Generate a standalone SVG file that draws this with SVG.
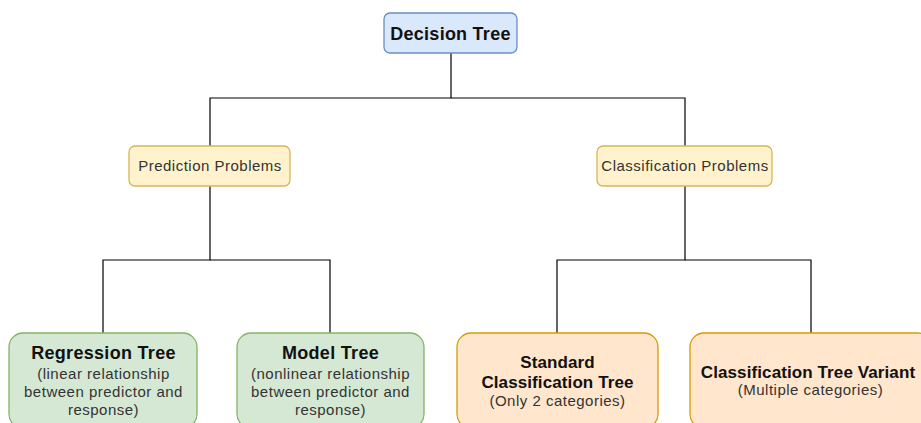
<svg xmlns="http://www.w3.org/2000/svg" width="921" height="423" viewBox="0 0 921 423">
  <style>
    .blue { fill: #dae8fc; stroke: #6c8ebf; stroke-width: 1.3; }
    .yellow { fill: #fff2cc; stroke: #d6b656; stroke-width: 1.3; }
    .green { fill: #d5e8d4; stroke: #82b366; stroke-width: 1.3; }
    .orange { fill: #ffe6cc; stroke: #d79b00; stroke-width: 1.3; }
    text { font-family: "Liberation Sans", Arial, sans-serif; text-anchor: middle; }
    .head { font-size: 18px; font-weight: bold; fill: #111; letter-spacing: 0.25px; }
    .gtitle { font-size: 18px; font-weight: bold; fill: #111; letter-spacing: 0.3px; }
    .otitle { font-size: 17px; font-weight: bold; fill: #111; letter-spacing: 0.1px; }
    .mid { font-size: 15px; fill: #333; letter-spacing: 0.5px; }
    .sub { font-size: 15px; fill: #333; letter-spacing: 0.5px; }
    .edge { fill: none; stroke: #000; stroke-width: 1.2; }
  </style>
  <rect width="921" height="423" fill="#ffffff"/>

  <g id="connectors">
    <path class="edge" d="M451 53 V98 H210 V146"/>
    <path class="edge" d="M451 98 H685 V146"/>
    <path class="edge" d="M210 186 V260 H103 V333"/>
    <path class="edge" d="M210 260 H330 V333"/>
    <path class="edge" d="M685 186 V260 H557 V333"/>
    <path class="edge" d="M685 260 H811 V333"/>
  </g>

  <g id="decision-tree">
    <rect class="blue" x="384" y="13" width="133" height="40" rx="6"/>
    <text class="head" x="450.5" y="39.5">Decision Tree</text>
  </g>

  <g id="prediction-problems">
    <rect class="yellow" x="129" y="146" width="161" height="40" rx="6"/>
    <text class="mid" x="210" y="171">Prediction Problems</text>
  </g>

  <g id="classification-problems">
    <rect class="yellow" x="597" y="146" width="175" height="40" rx="6"/>
    <text class="mid" x="685" y="171">Classification Problems</text>
  </g>

  <g id="regression-tree">
    <rect class="green" x="9" y="333" width="188" height="95" rx="14"/>
    <text class="gtitle" x="103.5" y="359">Regression Tree</text>
    <text class="sub" x="103.5" y="379">(linear relationship</text>
    <text class="sub" x="103.5" y="397">between predictor and</text>
    <text class="sub" x="103.5" y="415">response)</text>
  </g>

  <g id="model-tree">
    <rect class="green" x="237" y="333" width="187" height="95" rx="14"/>
    <text class="gtitle" x="330.5" y="359">Model Tree</text>
    <text class="sub" x="330.5" y="379">(nonlinear relationship</text>
    <text class="sub" x="330.5" y="397">between predictor and</text>
    <text class="sub" x="330.5" y="415">response)</text>
  </g>

  <g id="standard-classification-tree">
    <rect class="orange" x="457" y="333" width="201" height="95" rx="14"/>
    <text class="otitle" x="557.5" y="368">Standard</text>
    <text class="otitle" x="557.5" y="388">Classification Tree</text>
    <text class="sub" x="557.5" y="406">(Only 2 categories)</text>
  </g>

  <g id="classification-tree-variant">
    <rect class="orange" x="690" y="333" width="242" height="95" rx="14"/>
    <text class="otitle" x="808" y="378">Classification Tree Variant</text>
    <text class="sub" x="810.5" y="395">(Multiple categories)</text>
  </g>
</svg>
